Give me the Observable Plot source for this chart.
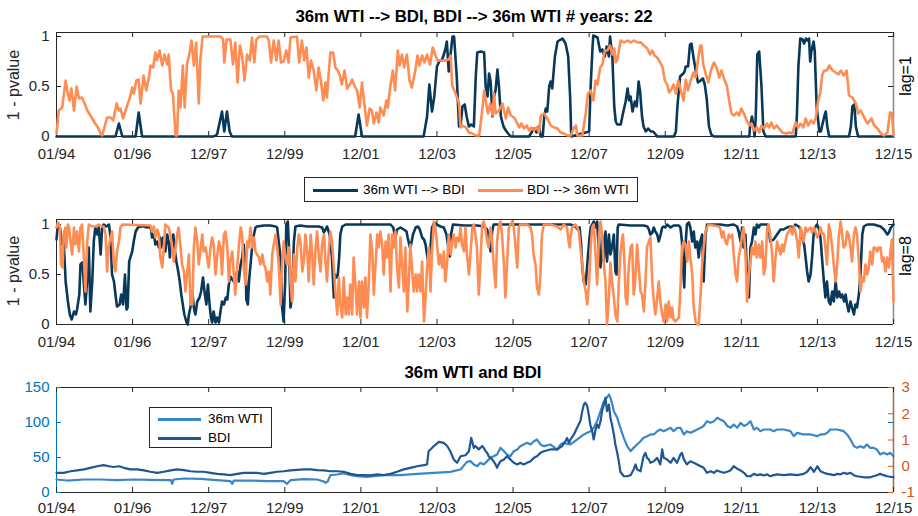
<!DOCTYPE html>
<html><head><meta charset="utf-8">
<script src="https://cdn.jsdelivr.net/npm/d3@7"></script>
<script src="https://cdn.jsdelivr.net/npm/@observablehq/plot@0.6"></script>
<style>
body{margin:0;background:#fff;font-family:"Liberation Sans",Arial,sans-serif;color:#262626;}
#root{position:relative;width:918px;height:516px;overflow:hidden;background:#fff;}
.title{position:absolute;font-weight:bold;font-size:16.8px;line-height:20px;color:#000;white-space:nowrap;transform:translateX(-50%);}
.rot{position:absolute;font-size:16px;line-height:18px;white-space:nowrap;transform:translate(-50%,-50%) rotate(-90deg);color:#262626;}
.legend{position:absolute;background:#fff;border:1px solid #262626;box-sizing:border-box;}
.legend .ln{position:absolute;height:2.5px;}
.legend .tx{position:absolute;font-size:13.5px;line-height:16px;white-space:nowrap;color:#000;}
svg{position:absolute;left:0;}
</style></head>
<body><div id="root"></div>
<script>
// ---- axis tick data ----
const xTickYears = [0,2,4,6,8,10,12,14,16,18,20,22];           // years since Jan 1994
const xTickLabels = ["01/94","01/96","12/97","12/99","12/01","12/03","12/05","12/07","12/09","12/11","12/13","12/15"];
const pTicks = [0,0.5,1];
const pTickLabels = ["0","0.5","1"];
const priceTicks = [0,50,100,150];
const zTicks = [-1,0,1,2,3];

// ---- lag=1 : 1 - pvalue  [years since Jan 1994, value] ----
const lag1WtiToBdi = [[0,0],[1.55,0],[1.64,0.13],[1.73,0],[2.08,0],[2.16,0.24],[2.25,0],[4.13,0],[4.22,0.02],[4.35,0.25],[4.41,0.05],[4.48,0.25],[4.55,0.05],[4.61,0],[7.85,0],[7.94,0.22],[8.03,0],[9.65,0],[9.74,0.2],[9.80,0.52],[9.87,0.25],[9.93,0.4],[10.0,0.7],[10.07,0.76],[10.13,0.76],[10.22,0.87],[10.26,0.95],[10.31,0.65],[10.35,0.8],[10.41,1.0],[10.45,1.0],[10.52,0.6],[10.58,0.1],[10.62,0.1],[10.67,0.3],[10.73,0.32],[10.78,0.2],[10.84,0.1],[10.90,0.12],[10.97,0.1],[11.02,0.6],[11.06,0.84],[11.15,0.85],[11.24,0.84],[11.28,0.5],[11.33,0.4],[11.37,0.63],[11.41,0.55],[11.46,0.2],[11.50,0.4],[11.54,0.46],[11.59,0.67],[11.63,0.5],[11.68,0.2],[11.75,0.1],[11.81,0.06],[11.87,0.03],[11.94,0],[12.42,0],[12.55,0.08],[12.62,0.04],[12.68,0.1],[12.73,0],[12.78,0],[12.82,0.2],[12.86,0.28],[12.90,0.25],[12.95,0.5],[12.99,0.55],[13.03,0.48],[13.10,0.8],[13.17,0.95],[13.30,0.98],[13.38,0.93],[13.45,0.8],[13.50,0.4],[13.53,0],[14.00,0.05],[14.04,0.5],[14.09,0.9],[14.11,1.01],[14.22,0.99],[14.29,0.85],[14.35,0.87],[14.41,0.8],[14.46,0.9],[14.52,0.8],[14.55,1.0],[14.61,0.8],[14.66,0.3],[14.70,0.15],[14.74,0.12],[14.83,0.12],[14.90,0.25],[14.96,0.35],[15.01,0.48],[15.05,0.36],[15.09,0.4],[15.14,0.25],[15.20,0.35],[15.25,0.3],[15.30,0.55],[15.34,0.45],[15.39,0.2],[15.43,0.1],[15.49,0.05],[15.55,0.08],[15.62,0.05],[15.68,0.05],[15.75,0.02],[15.79,0],[16.23,0],[16.28,0.05],[16.32,0.3],[16.39,0.6],[16.50,0.64],[16.54,0.7],[16.60,0.7],[16.65,0.92],[16.69,0.93],[16.74,0.8],[16.80,0.66],[16.86,0.54],[16.93,0.56],[16.99,0.58],[17.04,0.52],[17.09,0.38],[17.15,0.1],[17.21,0.02],[17.28,0],[18.21,0],[18.23,0.1],[18.28,0.2],[18.32,0.1],[18.35,0],[18.38,0.2],[18.42,0.82],[18.47,0.85],[18.53,0.5],[18.58,0.05],[18.64,0],[19.43,0],[19.46,0.2],[19.50,0.7],[19.55,0.98],[19.61,0.97],[19.65,0.93],[19.70,0.98],[19.74,0.96],[19.78,0.98],[19.81,0.75],[19.84,0.85],[19.90,0.95],[19.93,0.85],[19.98,0.3],[20.05,0.05],[20.09,0.05],[20.18,0.2],[20.22,0.25],[20.26,0.1],[20.31,0],[20.83,0],[20.88,0.1],[20.92,0.3],[20.97,0.32],[21.01,0.1],[21.07,0],[22,0]];

const lag1BdiToWti = [[0,0.03],[0.06,0.26],[0.15,0.29],[0.24,0.56],[0.28,0.46],[0.34,0.36],[0.39,0.48],[0.46,0.26],[0.53,0.50],[0.59,0.38],[0.67,0.39],[0.74,0.33],[0.81,0.26],[0.89,0.21],[1.02,0.13],[1.09,0.09],[1.16,0.03],[1.20,0.01],[1.26,0.09],[1.33,0.19],[1.42,0.19],[1.49,0.16],[1.58,0.33],[1.64,0.26],[1.68,0.28],[1.75,0.18],[1.84,0.29],[1.93,0.39],[1.99,0.49],[2.03,0.43],[2.10,0.56],[2.16,0.57],[2.21,0.33],[2.29,0.61],[2.36,0.46],[2.43,0.59],[2.47,0.71],[2.54,0.69],[2.60,0.84],[2.64,0.76],[2.71,0.86],[2.78,0.71],[2.84,0.82],[2.91,0.72],[2.95,0.82],[3.01,0.46],[3.06,0.43],[3.13,0.01],[3.17,0.01],[3.21,0.46],[3.26,0.29],[3.32,0.71],[3.37,0.29],[3.43,0.72],[3.50,0.84],[3.55,0.96],[3.61,0.71],[3.67,0.94],[3.74,0.33],[3.78,0.76],[3.84,1.0],[4.31,1.0],[4.38,0.97],[4.41,0.74],[4.47,0.97],[4.57,0.97],[4.64,0.72],[4.70,0.94],[4.76,0.54],[4.82,0.91],[4.88,0.81],[4.94,0.56],[5.01,0.82],[5.08,0.76],[5.14,0.99],[5.20,0.74],[5.25,0.97],[5.34,1.0],[5.53,1.0],[5.58,0.96],[5.64,0.74],[5.71,0.96],[5.78,0.76],[5.84,0.96],[5.90,0.74],[5.97,0.75],[6.04,0.86],[6.10,0.74],[6.15,0.99],[6.32,1.0],[6.38,0.74],[6.45,0.96],[6.51,0.76],[6.57,0.89],[6.63,0.59],[6.69,0.76],[6.76,0.66],[6.83,0.46],[6.89,0.69],[6.95,0.56],[7.01,0.36],[7.07,0.54],[7.11,0.39],[7.15,0.61],[7.20,0.84],[7.27,0.84],[7.33,0.69],[7.39,0.66],[7.44,0.62],[7.50,0.52],[7.57,0.66],[7.64,0.48],[7.71,0.52],[7.77,0.57],[7.83,0.51],[7.90,0.46],[7.97,0.29],[8.03,0.54],[8.09,0.33],[8.16,0.11],[8.23,0.28],[8.29,0.26],[8.34,0.13],[8.41,0.24],[8.47,0.14],[8.51,0.29],[8.60,0.21],[8.67,0.36],[8.71,0.29],[8.77,0.49],[8.84,0.66],[8.90,0.46],[8.97,0.86],[9.02,0.71],[9.08,0.82],[9.14,0.69],[9.21,0.82],[9.28,0.56],[9.34,0.49],[9.43,0.66],[9.49,0.81],[9.54,0.71],[9.61,0.81],[9.67,0.74],[9.74,0.82],[9.82,0.72],[9.89,0.89],[9.96,0.81],[10.02,0.76],[10.22,0.76],[10.31,0.77],[10.36,0.81],[10.40,0.51],[10.49,0.43],[10.58,0.33],[10.62,0.09],[10.67,0.11],[10.76,0.09],[10.84,0.04],[10.93,0.03],[11.02,0.01],[11.11,0.01],[11.19,0.26],[11.24,0.46],[11.28,0.36],[11.34,0.23],[11.40,0.33],[11.46,0.21],[11.50,0.43],[11.54,0.23],[11.63,0.26],[11.72,0.33],[11.81,0.18],[11.87,0.29],[11.94,0.21],[12.03,0.19],[12.10,0.14],[12.16,0.09],[12.22,0.13],[12.29,0.08],[12.36,0.11],[12.42,0.06],[12.48,0.09],[12.55,0.06],[12.62,0.09],[12.68,0.04],[12.73,0.21],[12.82,0.23],[12.90,0.18],[12.99,0.11],[13.08,0.09],[13.17,0.08],[13.25,0.04],[13.34,0.03],[13.43,0.01],[13.52,0.01],[13.59,0.08],[13.65,0.11],[13.69,0.01],[13.82,0.01],[13.91,0.23],[13.97,0.43],[14.04,0.46],[14.11,0.36],[14.17,0.56],[14.22,0.52],[14.29,0.69],[14.35,0.72],[14.41,0.86],[14.48,0.86],[14.55,0.91],[14.61,0.82],[14.66,0.88],[14.70,0.74],[14.74,0.77],[14.79,0.88],[14.83,0.96],[14.92,0.94],[15.01,0.96],[15.09,0.94],[15.18,0.96],[15.27,0.94],[15.36,0.94],[15.44,0.91],[15.53,0.88],[15.60,0.82],[15.66,0.86],[15.72,0.81],[15.79,0.79],[15.87,0.74],[15.93,0.69],[15.99,0.56],[16.06,0.51],[16.10,0.44],[16.16,0.47],[16.22,0.52],[16.28,0.43],[16.34,0.56],[16.41,0.46],[16.48,0.36],[16.54,0.57],[16.60,0.46],[16.67,0.56],[16.74,0.64],[16.80,0.59],[16.86,0.76],[16.92,0.91],[16.95,0.91],[17.00,0.72],[17.07,0.62],[17.13,0.54],[17.20,0.66],[17.28,0.74],[17.35,0.69],[17.42,0.59],[17.48,0.66],[17.55,0.57],[17.62,0.51],[17.68,0.36],[17.74,0.23],[17.81,0.21],[17.88,0.24],[17.94,0.21],[18.00,0.28],[18.07,0.23],[18.14,0.16],[18.21,0.11],[18.27,0.13],[18.34,0.06],[18.41,0.09],[18.47,0.04],[18.53,0.11],[18.60,0.08],[18.67,0.13],[18.73,0.09],[18.79,0.14],[18.86,0.08],[18.93,0.11],[18.99,0.08],[19.08,0.04],[19.17,0.03],[19.26,0.04],[19.34,0.03],[19.43,0.14],[19.49,0.09],[19.56,0.13],[19.63,0.09],[19.69,0.18],[19.76,0.11],[19.83,0.16],[19.90,0.13],[19.96,0.19],[20.02,0.36],[20.07,0.43],[20.13,0.62],[20.18,0.66],[20.25,0.66],[20.31,0.71],[20.40,0.66],[20.48,0.64],[20.55,0.62],[20.62,0.66],[20.69,0.61],[20.77,0.66],[20.83,0.41],[20.92,0.39],[21.01,0.33],[21.07,0.23],[21.14,0.26],[21.23,0.19],[21.32,0.13],[21.42,0.18],[21.49,0.11],[21.58,0.08],[21.67,0.03],[21.75,0.01],[21.84,0.04],[21.91,0.24],[21.96,0.23],[22.00,0.01]];

// ---- lag=8 : 1 - pvalue ----
const lag8WtiToBdi = [[0,0.85],[0.035,1.0],[0.09,0.97],[0.15,0.8],[0.19,0.83],[0.24,0.43],[0.30,0.23],[0.35,0.1],[0.40,0.05],[0.46,0.13],[0.51,0.1],[0.54,0.15],[0.60,0.3],[0.63,0.6],[0.68,0.62],[0.72,0.4],[0.76,0.2],[0.81,0.47],[0.85,0.77],[0.89,0.13],[0.94,0.43],[0.98,0.83],[1.02,0.97],[1.07,0.9],[1.11,0.97],[1.16,0.7],[1.20,0.97],[1.24,1.0],[1.31,0.98],[1.38,1.0],[1.42,0.87],[1.46,0.5],[1.51,0.43],[1.55,0.3],[1.59,0.18],[1.66,0.2],[1.70,0.3],[1.75,0.2],[1.80,0.5],[1.84,0.15],[1.87,0.17],[1.91,0.63],[1.94,0.67],[1.99,0.73],[2.03,0.83],[2.08,0.93],[2.14,0.97],[2.21,0.98],[2.30,0.98],[2.38,0.97],[2.44,0.98],[2.49,0.95],[2.51,0.87],[2.56,0.9],[2.60,0.8],[2.65,0.83],[2.69,0.77],[2.72,0.87],[2.75,0.77],[2.80,0.87],[2.86,0.73],[2.91,0.9],[2.95,0.82],[2.98,0.67],[3.01,0.83],[3.07,0.9],[3.10,0.77],[3.15,0.63],[3.20,0.53],[3.24,0.43],[3.28,0.3],[3.32,0.2],[3.36,0.1],[3.42,0.02],[3.45,0],[3.48,0.1],[3.52,0.17],[3.57,0.33],[3.61,0.17],[3.65,0.1],[3.70,0.23],[3.76,0.27],[3.80,0.33],[3.85,0.47],[3.90,0.3],[3.94,0.2],[3.98,0.4],[4.03,0.17],[4.06,0.07],[4.09,0.02],[4.13,0.13],[4.18,0.02],[4.22,0.07],[4.27,0.02],[4.31,0.13],[4.35,0.23],[4.40,0.2],[4.45,0.27],[4.49,0.25],[4.53,0.4],[4.57,0.48],[4.62,0.45],[4.66,0.43],[4.70,0.45],[4.75,0.53],[4.79,0.43],[4.84,0.6],[4.88,0.67],[4.92,0.8],[4.97,0.6],[4.99,0.25],[5.03,0.2],[5.06,0.43],[5.10,0.6],[5.14,0.77],[5.19,0.9],[5.23,0.97],[5.27,0.98],[5.45,0.99],[5.62,0.99],[5.76,0.98],[5.80,0.97],[5.84,0.83],[5.89,0.67],[5.93,0.17],[5.97,0.03],[6.01,0.43],[6.04,1.0],[6.08,1.03],[6.11,0.77],[6.15,0.17],[6.19,0.27],[6.24,0.83],[6.28,0.98],[6.41,0.99],[6.59,0.98],[6.76,0.98],[6.89,0.98],[6.98,0.97],[7.03,0.92],[7.07,0.95],[7.11,0.98],[7.18,0.9],[7.24,0.67],[7.29,0.27],[7.32,0.5],[7.36,0.47],[7.39,0.48],[7.43,0.67],[7.46,0.9],[7.51,0.98],[7.60,1.0],[8.78,1.0],[8.85,0.97],[8.91,0.87],[8.95,0.95],[9.04,0.97],[9.13,0.95],[9.20,0.93],[9.23,0.87],[9.29,0.77],[9.32,0.8],[9.37,0.9],[9.44,0.97],[9.50,0.98],[9.55,0.95],[9.61,0.87],[9.66,0.85],[9.70,0.8],[9.74,0.7],[9.79,0.58],[9.83,0.77],[9.87,0.97],[9.93,1.02],[9.99,1.0],[10.09,0.98],[10.18,0.97],[10.25,0.9],[10.29,0.8],[10.34,0.68],[10.37,0.9],[10.42,1.0],[10.71,0.99],[11.06,0.99],[11.23,0.98],[11.32,0.95],[11.36,0.87],[11.41,0.73],[11.45,0.93],[11.49,1.0],[13.51,1.0],[13.64,0.98],[13.70,0.95],[13.75,0.97],[13.79,0.8],[13.82,0.57],[13.86,0.43],[13.91,0.4],[13.95,0.6],[14.00,0.83],[14.04,0.97],[14.08,1.0],[14.12,1.03],[14.17,0.97],[14.21,1.03],[14.25,0.77],[14.30,0.57],[14.34,0.9],[14.38,0.63],[14.43,0.93],[14.47,0.63],[14.52,0.9],[14.56,0.7],[14.60,0.77],[14.65,0.9],[14.69,0.53],[14.72,0.5],[14.75,0.97],[14.78,1.0],[15.09,0.99],[15.44,0.99],[15.53,0.98],[15.57,0.95],[15.61,0.9],[15.66,0.92],[15.70,0.97],[15.74,0.93],[15.79,0.9],[15.83,0.83],[15.88,0.9],[15.92,0.97],[15.96,0.98],[16.00,0.97],[16.05,1.0],[16.14,0.97],[16.22,0.99],[16.36,0.99],[16.40,0.97],[16.44,0.83],[16.46,0.63],[16.50,0.37],[16.53,0.77],[16.57,1.0],[16.62,1.02],[16.66,0.97],[16.71,0.83],[16.75,0.93],[16.79,0.77],[16.84,0.83],[16.88,0.67],[16.92,0.83],[16.97,0.9],[17.01,0.43],[17.06,0.9],[17.10,1.0],[17.45,1.0],[17.63,0.99],[17.80,1.0],[17.89,0.98],[17.93,0.93],[17.98,0.83],[18.02,0.97],[18.06,0.77],[18.11,0.9],[18.15,0.43],[18.20,0.27],[18.24,0.77],[18.28,0.83],[18.33,0.97],[18.37,0.9],[18.41,1.0],[18.46,0.97],[18.50,1.0],[18.68,1.0],[18.72,0.97],[18.76,0.83],[18.85,0.85],[18.94,0.9],[19.03,0.95],[19.11,0.95],[19.20,0.97],[19.29,0.98],[19.36,0.97],[19.42,1.0],[19.51,0.98],[19.56,0.95],[19.60,0.87],[19.65,0.8],[19.69,0.67],[19.73,0.53],[19.77,0.43],[19.82,0.5],[19.86,0.67],[19.90,0.9],[19.94,0.97],[19.99,1.0],[20.03,0.97],[20.08,0.87],[20.12,0.67],[20.17,0.43],[20.21,0.27],[20.25,0.43],[20.30,0.23],[20.34,0.2],[20.39,0.33],[20.43,0.23],[20.48,0.43],[20.52,0.27],[20.57,0.33],[20.61,0.27],[20.65,0.3],[20.70,0.23],[20.74,0.3],[20.78,0.2],[20.82,0.13],[20.87,0.23],[20.91,0.17],[20.96,0.1],[21.00,0.2],[21.04,0.17],[21.09,0.3],[21.13,0.5],[21.18,0.9],[21.22,0.98],[21.31,1.0],[21.48,1.0],[21.66,0.98],[21.75,0.95],[21.84,0.9],[21.88,0.92],[21.93,0.97],[22.0,1.0]];

const lag8BdiToWti = [[0,0.97],[0.04,1.02],[0.09,0.97],[0.12,0.6],[0.16,0.57],[0.19,0.9],[0.23,0.97],[0.26,0.77],[0.30,1.0],[0.33,0.97],[0.37,0.83],[0.41,0.7],[0.46,0.97],[0.50,0.8],[0.54,0.93],[0.59,0.73],[0.63,0.97],[0.67,1.0],[0.72,0.67],[0.76,0.33],[0.81,0.83],[0.85,1.0],[0.94,0.98],[1.02,0.98],[1.11,1.0],[1.20,0.98],[1.24,0.98],[1.29,0.9],[1.33,0.53],[1.37,0.77],[1.42,0.87],[1.46,0.93],[1.51,0.6],[1.55,0.53],[1.59,0.73],[1.64,0.83],[1.68,0.97],[1.73,1.0],[2.47,0.99],[2.51,0.93],[2.56,0.98],[2.60,0.87],[2.65,0.95],[2.69,0.9],[2.73,0.67],[2.78,0.57],[2.82,0.77],[2.86,1.0],[2.91,0.98],[2.95,0.97],[2.99,0.9],[3.04,0.77],[3.08,0.63],[3.13,0.77],[3.17,0.9],[3.21,0.97],[3.26,0.77],[3.30,0.6],[3.35,0.53],[3.39,0.33],[3.43,0.5],[3.48,0.7],[3.52,0.2],[3.57,0.2],[3.61,0.77],[3.65,0.97],[3.70,0.83],[3.74,0.6],[3.79,0.77],[3.83,0.9],[3.87,0.73],[3.92,0.77],[3.96,0.67],[4.00,0.57],[4.05,0.77],[4.09,0.87],[4.13,0.8],[4.18,0.5],[4.22,0.67],[4.27,0.83],[4.31,0.77],[4.35,0.5],[4.40,0.9],[4.44,0.93],[4.49,0.77],[4.53,0.43],[4.57,0.63],[4.62,0.73],[4.66,0.5],[4.70,0.3],[4.75,0.57],[4.79,0.77],[4.84,0.97],[4.88,0.9],[4.92,0.57],[4.97,0.4],[5.01,0.83],[5.05,0.77],[5.10,0.97],[5.14,0.77],[5.19,0.87],[5.23,0.73],[5.27,0.7],[5.32,0.67],[5.36,0.6],[5.41,0.7],[5.45,0.6],[5.49,0.57],[5.54,0.43],[5.58,0.53],[5.62,0.3],[5.67,0.7],[5.71,0.8],[5.76,0.9],[5.80,0.77],[5.84,0.6],[5.89,0.2],[5.93,0.6],[5.97,0.83],[6.02,0.67],[6.06,0.6],[6.11,0.77],[6.15,0.43],[6.19,0.23],[6.24,0.7],[6.28,0.43],[6.33,0.77],[6.37,0.9],[6.41,0.83],[6.46,0.53],[6.50,0.63],[6.54,0.9],[6.59,0.73],[6.63,0.43],[6.68,0.9],[6.72,0.7],[6.76,0.4],[6.81,0.77],[6.85,0.93],[6.89,0.7],[6.94,0.53],[6.98,0.8],[7.03,0.9],[7.07,0.63],[7.11,0.43],[7.16,0.77],[7.20,0.93],[7.24,0.83],[7.29,0.57],[7.33,0.33],[7.38,0.1],[7.42,0.47],[7.46,0.2],[7.51,0.07],[7.55,0.47],[7.60,0.1],[7.64,0.27],[7.68,0.1],[7.72,0.4],[7.77,0.1],[7.81,0.67],[7.86,0.37],[7.90,0.1],[7.95,0.43],[7.99,0.07],[8.03,0.43],[8.08,0.17],[8.12,0.47],[8.16,0.07],[8.21,0.43],[8.25,0.9],[8.30,0.73],[8.34,0.3],[8.39,0.63],[8.43,0.9],[8.47,0.77],[8.51,0.93],[8.56,0.8],[8.60,0.5],[8.65,0.83],[8.69,0.67],[8.73,0.9],[8.78,0.33],[8.82,0.9],[8.86,0.77],[8.91,0.93],[8.95,0.57],[9.00,0.37],[9.04,0.87],[9.09,0.57],[9.13,0.33],[9.17,0.77],[9.22,0.13],[9.26,0.43],[9.30,0.8],[9.35,0.53],[9.39,0.33],[9.44,0.5],[9.48,0.33],[9.52,0.5],[9.57,0.33],[9.61,0.63],[9.66,0.03],[9.70,0.27],[9.74,0.57],[9.79,0.77],[9.83,0.33],[9.87,0.73],[9.92,1.03],[9.96,0.97],[10.01,0.77],[10.05,0.6],[10.09,0.7],[10.14,0.57],[10.18,0.73],[10.22,0.43],[10.27,0.63],[10.31,0.9],[10.36,0.7],[10.40,0.83],[10.44,0.9],[10.49,0.77],[10.53,0.87],[10.58,0.83],[10.62,0.97],[10.66,0.8],[10.71,0.73],[10.75,0.97],[10.79,0.7],[10.84,0.5],[10.88,0.7],[10.93,0.97],[10.97,1.0],[11.01,0.9],[11.05,0.77],[11.10,0.3],[11.14,0.6],[11.19,1.0],[11.23,1.03],[11.27,0.97],[11.32,0.83],[11.36,0.77],[11.41,0.97],[11.45,0.83],[11.49,0.6],[11.54,0.37],[11.58,0.83],[11.62,0.97],[11.67,1.03],[11.71,0.9],[11.76,0.6],[11.80,0.27],[11.84,0.6],[11.89,0.97],[11.93,1.0],[11.98,1.03],[12.02,0.97],[12.06,0.8],[12.11,0.57],[12.15,0.97],[12.19,1.0],[12.37,1.0],[12.46,0.97],[12.50,0.9],[12.54,0.7],[12.59,0.6],[12.63,0.37],[12.68,0.3],[12.72,0.5],[12.76,0.9],[12.81,1.0],[12.98,1.0],[13.16,0.98],[13.25,0.95],[13.33,1.0],[13.42,0.97],[13.46,0.83],[13.49,0.77],[13.51,0.87],[13.55,0.97],[13.64,1.0],[13.69,0.97],[13.73,0.93],[13.77,0.77],[13.82,0.6],[13.86,0.43],[13.91,0.33],[13.95,0.2],[14.00,0.43],[14.04,0.77],[14.08,0.97],[14.12,1.0],[14.17,0.7],[14.21,0.4],[14.26,0.9],[14.30,1.03],[14.34,0.9],[14.38,0.63],[14.43,0.43],[14.47,0],[14.52,0.27],[14.56,0.62],[14.60,0.43],[14.65,0.27],[14.69,0.1],[14.74,0.03],[14.78,0.43],[14.82,0.7],[14.87,0.87],[14.89,0.9],[14.93,0.6],[14.96,0.27],[15.00,0.2],[15.04,0.57],[15.09,0.77],[15.13,0.8],[15.17,0.3],[15.21,0.43],[15.26,0.8],[15.30,0.6],[15.35,0.33],[15.39,0.3],[15.44,0.13],[15.48,0.43],[15.52,0.77],[15.57,0.83],[15.61,0.87],[15.66,0.43],[15.70,0.23],[15.74,0.1],[15.79,0.27],[15.83,0.43],[15.87,0.23],[15.92,0.1],[15.96,0.03],[16.01,0.2],[16.05,0.03],[16.09,0.23],[16.14,0.07],[16.18,0.17],[16.22,0.05],[16.27,0.03],[16.31,0.05],[16.36,0.07],[16.40,0.37],[16.44,0.77],[16.49,0.83],[16.53,0.8],[16.58,0.63],[16.62,0.83],[16.66,0.67],[16.71,0.5],[16.75,0.17],[16.80,0.03],[16.84,0],[16.88,0],[16.93,0.3],[16.97,0.6],[17.01,0.77],[17.06,0.93],[17.10,0.97],[17.14,1.0],[17.40,0.98],[17.44,0.97],[17.49,0.87],[17.53,0.93],[17.58,0.83],[17.62,0.8],[17.67,0.9],[17.71,0.87],[17.76,0.9],[17.80,0.7],[17.85,0.5],[17.89,0.43],[17.93,0.67],[17.98,0.77],[18.02,0.9],[18.06,0.97],[18.11,0.7],[18.15,0.23],[18.20,0.5],[18.24,0.63],[18.28,0.77],[18.33,0.7],[18.37,0.83],[18.41,0.67],[18.46,0.8],[18.50,0.67],[18.55,0.83],[18.59,0.5],[18.63,0.57],[18.68,0.97],[18.72,1.0],[18.76,0.9],[18.81,0.7],[18.85,0.43],[18.90,0.67],[18.94,0.83],[18.98,0.77],[19.03,0.7],[19.07,0.8],[19.11,0.73],[19.16,0.83],[19.20,0.9],[19.25,0.93],[19.29,0.97],[19.34,0.9],[19.38,0.98],[19.42,0.93],[19.47,0.83],[19.51,0.67],[19.56,0.97],[19.60,0.9],[19.64,0.83],[19.69,0.97],[19.73,0.93],[19.77,0.95],[19.82,0.97],[19.86,0.92],[19.91,0.97],[19.95,0.93],[19.99,0.87],[20.04,0.9],[20.08,0.97],[20.12,0.92],[20.17,0.9],[20.21,0.77],[20.25,0.6],[20.30,1.0],[20.34,0.93],[20.39,0.77],[20.43,0.6],[20.48,0.43],[20.52,0.6],[20.56,0.87],[20.61,1.03],[20.65,0.9],[20.69,0.77],[20.74,0.8],[20.78,0.93],[20.82,0.9],[20.87,0.77],[20.91,0.63],[20.96,0.9],[21.00,0.97],[21.04,0.9],[21.09,0.63],[21.13,0.33],[21.18,0.47],[21.22,0.43],[21.26,0.6],[21.31,0.5],[21.35,0.57],[21.39,0.73],[21.44,0.6],[21.48,0.77],[21.52,0.77],[21.57,0.73],[21.61,0.77],[21.66,0.77],[21.70,0.63],[21.74,0.67],[21.79,0.53],[21.83,0.67],[21.88,0.57],[21.92,0.73],[21.96,0.85],[22.00,0.23]];

// ---- 36m WTI (left axis, price) and BDI (right axis, standardized) ----
const wti36m = [[0,18.6],[0.28,17.1],[0.72,18.6],[1.16,18.6],[1.59,17.6],[2.03,18.6],[2.47,18.1],[2.91,17.6],[3.01,17.6],[3.04,12.4],[3.08,18.6],[3.35,20],[3.78,19.5],[4.22,17.6],[4.57,16.2],[4.62,12.4],[4.66,17.1],[5.10,17.1],[5.54,16.2],[5.97,16.2],[6.06,12.4],[6.15,17.6],[6.50,19],[6.85,18.6],[7.03,15.5],[7.07,13.8],[7.13,16],[7.20,24.8],[7.38,25.7],[7.55,27.6],[7.73,24.8],[7.90,23.3],[8.16,22.4],[8.60,24.8],[9.04,24.8],[9.48,26.7],[9.92,28.1],[10.35,29.5],[10.62,32.9],[10.79,43.8],[10.88,44.8],[10.97,40],[11.06,37.6],[11.14,42.4],[11.23,40],[11.32,44.8],[11.40,49.5],[11.49,51.9],[11.58,54.3],[11.67,63.8],[11.76,59],[11.84,54.3],[11.93,51.9],[12.02,59],[12.11,61.4],[12.19,66.2],[12.28,68.6],[12.37,71],[12.46,68.6],[12.55,73.3],[12.63,75.7],[12.72,68.6],[12.81,66.2],[12.98,68.6],[13.16,61.4],[13.25,68.6],[13.33,71],[13.42,69.5],[13.51,68.6],[13.68,75.7],[13.86,82.9],[13.95,85.2],[14.04,87.6],[14.12,92.4],[14.21,101.9],[14.30,116.2],[14.39,130.5],[14.46,135.2],[14.52,140],[14.56,135.2],[14.61,125.7],[14.65,116.2],[14.74,106.7],[14.82,92.4],[14.91,78.1],[15.00,66.2],[15.09,59],[15.17,63.8],[15.26,68.6],[15.35,73.3],[15.43,78.1],[15.53,80.5],[15.61,82.9],[15.70,82.9],[15.79,87.6],[15.87,90],[15.96,87.6],[16.05,90],[16.14,92.4],[16.22,87.6],[16.32,92.4],[16.40,92.4],[16.49,82.9],[16.57,87.6],[16.66,85.2],[16.75,87.6],[16.84,90],[16.93,92.4],[17.01,95],[17.10,101.9],[17.19,99.5],[17.28,101.9],[17.37,106.7],[17.45,104.3],[17.54,101.9],[17.63,95],[17.72,92.4],[17.80,97.1],[17.89,92.4],[17.98,99.5],[18.07,95],[18.15,97.1],[18.24,101.9],[18.33,90],[18.41,92.4],[18.50,87.6],[18.59,90],[18.76,90],[18.85,87.6],[18.94,90],[19.12,90],[19.29,87.6],[19.38,80.5],[19.47,85.2],[19.64,82.9],[19.82,82.9],[20.00,80.5],[20.08,82.9],[20.17,82.9],[20.26,85.2],[20.34,90],[20.43,90],[20.52,90],[20.69,87.6],[20.78,82.9],[20.87,75.7],[20.96,66.2],[21.04,63.8],[21.13,66.2],[21.22,63.8],[21.30,68.6],[21.39,63.8],[21.48,63.8],[21.56,61.4],[21.65,54.3],[21.74,56.7],[21.83,54.3],[21.91,56.7],[22.0,52]];

const bdiStd = [[0,-0.25],[0.19,-0.25],[0.37,-0.19],[0.54,-0.16],[0.72,-0.12],[0.89,-0.06],[1.07,0.0],[1.24,0.04],[1.38,0.0],[1.51,-0.03],[1.64,0.0],[1.77,-0.06],[1.94,-0.12],[2.12,-0.12],[2.30,-0.16],[2.47,-0.21],[2.65,-0.25],[2.82,-0.21],[3.00,-0.16],[3.17,-0.12],[3.35,-0.15],[3.52,-0.19],[3.70,-0.21],[3.87,-0.21],[4.05,-0.25],[4.22,-0.29],[4.40,-0.31],[4.57,-0.34],[4.75,-0.29],[4.92,-0.25],[5.10,-0.25],[5.27,-0.25],[5.45,-0.29],[5.62,-0.25],[5.80,-0.21],[5.97,-0.19],[6.15,-0.16],[6.33,-0.14],[6.50,-0.12],[6.68,-0.12],[6.85,-0.15],[7.03,-0.16],[7.20,-0.19],[7.38,-0.19],[7.55,-0.21],[7.73,-0.29],[7.90,-0.34],[8.08,-0.34],[8.25,-0.35],[8.43,-0.31],[8.60,-0.34],[8.78,-0.29],[8.95,-0.21],[9.13,-0.12],[9.30,-0.06],[9.48,0.0],[9.65,0.04],[9.74,0.07],[9.78,0.57],[9.83,0.64],[9.92,0.77],[10.05,0.93],[10.18,0.89],[10.27,0.77],[10.35,0.57],[10.44,0.26],[10.53,0.13],[10.62,0.38],[10.75,0.42],[10.84,0.57],[10.90,1.08],[10.97,0.70],[11.01,0.77],[11.06,0.70],[11.10,0.64],[11.14,0.70],[11.19,0.77],[11.23,0.70],[11.28,0.57],[11.32,0.51],[11.36,0.38],[11.40,0.32],[11.45,0.26],[11.49,0.19],[11.54,0.07],[11.58,-0.06],[11.62,0.07],[11.67,0.19],[11.76,0.26],[11.84,0.38],[11.93,0.26],[12.02,0.13],[12.11,0.07],[12.19,0.13],[12.28,0.07],[12.37,0.13],[12.46,0.19],[12.55,0.32],[12.63,0.38],[12.72,0.51],[12.81,0.57],[12.98,0.64],[13.16,0.64],[13.29,0.77],[13.38,0.96],[13.42,1.08],[13.47,0.89],[13.51,1.02],[13.60,1.21],[13.68,1.46],[13.77,1.72],[13.82,2.10],[13.86,2.35],[13.90,2.42],[13.95,2.29],[13.99,1.97],[14.03,1.59],[14.08,1.34],[14.12,1.02],[14.17,1.40],[14.21,1.59],[14.25,1.46],[14.30,1.72],[14.34,2.10],[14.39,2.35],[14.43,2.61],[14.47,2.10],[14.52,2.35],[14.56,1.84],[14.60,1.59],[14.65,1.21],[14.69,0.83],[14.73,0.57],[14.78,0.19],[14.82,-0.21],[14.91,-0.38],[15.00,-0.38],[15.09,-0.34],[15.17,-0.12],[15.22,0.07],[15.26,-0.12],[15.35,-0.19],[15.43,0.38],[15.48,0.51],[15.52,0.32],[15.57,0.26],[15.61,0.13],[15.70,0.19],[15.79,0.32],[15.87,0.07],[15.92,0.64],[15.96,0.32],[16.05,0.26],[16.14,0.13],[16.22,0.32],[16.31,0.13],[16.40,0.45],[16.44,0.51],[16.49,0.26],[16.57,0.07],[16.66,0.19],[16.75,0.13],[16.84,0.07],[16.93,0.00],[17.01,-0.06],[17.10,-0.25],[17.19,-0.19],[17.28,-0.25],[17.36,-0.16],[17.45,-0.21],[17.54,-0.25],[17.63,-0.21],[17.71,-0.16],[17.80,0.00],[17.89,-0.09],[17.98,-0.16],[18.07,-0.25],[18.15,-0.38],[18.24,-0.38],[18.33,-0.29],[18.41,-0.34],[18.50,-0.31],[18.59,-0.35],[18.68,-0.31],[18.76,-0.38],[18.85,-0.34],[18.94,-0.31],[19.12,-0.34],[19.29,-0.31],[19.47,-0.34],[19.64,-0.29],[19.73,-0.21],[19.82,-0.03],[19.91,-0.21],[20.00,0.00],[20.08,-0.19],[20.17,-0.25],[20.26,-0.29],[20.34,-0.31],[20.43,-0.34],[20.52,-0.29],[20.61,-0.31],[20.69,-0.25],[20.78,-0.29],[20.87,-0.25],[20.96,-0.34],[21.04,-0.38],[21.22,-0.42],[21.39,-0.42],[21.56,-0.34],[21.65,-0.29],[21.74,-0.34],[21.83,-0.38],[22.00,-0.42]];

// ---- styling ----
const ink = "#262626", navy = "#08385a", orange = "#fe8c53";
const wtiBlue = "#3a87c8", bdiBlue = "#1f5795", axBlue = "#0072bd", axOrange = "#d95319";
const W = 918, ML = 56, MR = 25;
const font = {fontFamily:"'Liberation Sans', Arial, sans-serif", fontSize:"15px", color: ink, background:"transparent", overflow:"visible"};
const root = document.getElementById("root");
const X = d => d[0], Y = d => d[1];
const fmtX = d => xTickLabels[Math.round(d / 2)];

function pPanel(navyData, orangeData, top, height, mt, mb, ymax) {
  const ih = height - mt - mb, iw = W - ML - MR;
  const svg = Plot.plot({
    width: W, height, marginLeft: ML, marginRight: MR, marginTop: mt, marginBottom: mb,
    style: font,
    x: {domain: [0, 22]}, y: {domain: [0, ymax]},
    marks: [
      Plot.ruleY([ymax], {stroke: ink}),
      Plot.ruleY([0], {stroke: ink}),
      Plot.ruleX([0], {stroke: ink}),
      Plot.ruleX([22], {stroke: "#8e8e8e", strokeWidth: 1.6}),
      Plot.tickX(xTickYears, {x: d => d, stroke: ink, insetTop: ih - 5}),
      Plot.tickX(xTickYears, {x: d => d, stroke: ink, insetBottom: ih - 5}),
      Plot.tickY(pTicks, {y: d => d, stroke: ink, insetRight: iw - 5}),
      Plot.tickY(pTicks, {y: d => d, stroke: ink, insetLeft: iw - 5}),
      Plot.line(navyData, {x: X, y: Y, stroke: navy, strokeWidth: 2.6}),
      Plot.line(orangeData, {x: X, y: Y, stroke: orange, strokeWidth: 2.6}),
      Plot.axisX({ticks: xTickYears, tickFormat: fmtX, tickSize: 0, tickPadding: 12, label: null, fill: ink}),
      Plot.axisY({ticks: pTicks, tickFormat: d => pTickLabels[pTicks.indexOf(d)], tickSize: 0, tickPadding: 7, label: null, fill: ink})
    ]
  });
  svg.style.top = top + "px";
  root.appendChild(svg);
}

pPanel(lag1WtiToBdi, lag1BdiToWti, 0, 170, 32, 34, 1.04);
pPanel(lag8WtiToBdi, lag8BdiToWti, 200, 160, 19, 36, 1.05);

// price panel
(function(){
  const top = 360, height = 156, mt = 27, mb = 24;
  const ih = height - mt - mb, iw = W - ML - MR;
  const zToY = z => (z + 1) * 37.5;
  const svg = Plot.plot({
    width: W, height, marginLeft: ML, marginRight: MR, marginTop: mt, marginBottom: mb,
    style: font,
    x: {domain: [0, 22]}, y: {domain: [0, 150]},
    marks: [
      Plot.ruleY([150], {stroke: ink}),
      Plot.ruleY([0], {stroke: ink}),
      Plot.ruleX([0], {stroke: axBlue}),
      Plot.ruleX([22], {stroke: "#a2705a", strokeWidth: 1.6}),
      Plot.tickX(xTickYears, {x: d => d, stroke: ink, insetTop: ih - 5}),
      Plot.tickX(xTickYears, {x: d => d, stroke: ink, insetBottom: ih - 5}),
      Plot.tickY(priceTicks, {y: d => d, stroke: axBlue, insetRight: iw - 5}),
      Plot.tickY(zTicks, {y: zToY, stroke: axOrange, insetLeft: iw - 5}),
      Plot.tickY([100], {y: d => d, stroke: axBlue, insetLeft: iw - 5}),
      Plot.line(wti36m, {x: X, y: Y, stroke: wtiBlue, strokeWidth: 2.2}),
      Plot.line(bdiStd, {x: X, y: d => zToY(d[1]), stroke: bdiBlue, strokeWidth: 2.2}),
      Plot.axisX({ticks: xTickYears, tickFormat: fmtX, tickSize: 0, tickPadding: 9.5, label: null, fill: ink}),
      Plot.axisY({ticks: priceTicks, tickFormat: d => String(d), tickSize: 0, tickPadding: 7, label: null, fill: axBlue}),
      Plot.axisY({anchor: "right", ticks: zTicks.map(zToY), tickFormat: v => String(Math.round(v / 37.5 - 1)), tickSize: 0, tickPadding: 8, label: null, fill: axOrange})
    ]
  });
  svg.style.top = top + "px";
  root.appendChild(svg);
})();

// ---- text overlays ----
function add(html){ const t = document.createElement("template"); t.innerHTML = html.trim(); root.appendChild(t.content.firstChild); }
add(`<div class="title" style="left:474px;top:7px;">36m WTI --&gt; BDI, BDI --&gt; 36m WTI # years: 22</div>`);
add(`<div class="title" style="left:473px;top:363px;">36m WTI and BDI</div>`);
add(`<div class="rot" style="left:14px;top:85px;">1 - pvalue</div>`);
add(`<div class="rot" style="left:14px;top:271px;">1 - pvalue</div>`);
add(`<div class="rot" style="left:906px;top:76px;color:#000;">lag=1</div>`);
add(`<div class="rot" style="left:906px;top:256px;color:#000;">lag=8</div>`);
add(`<div class="legend" style="left:304px;top:177px;width:334px;height:25px;">
  <div class="ln" style="left:8px;width:45px;top:11px;background:${navy}"></div>
  <div class="tx" style="left:58px;top:4px;">36m WTI --&gt; BDI</div>
  <div class="ln" style="left:173px;width:45px;top:11px;background:${orange}"></div>
  <div class="tx" style="left:222px;top:4px;">BDI --&gt; 36m WTI</div>
</div>`);
add(`<div class="legend" style="left:149px;top:407px;width:123px;height:41px;">
  <div class="ln" style="left:8px;width:43px;top:10px;background:${wtiBlue}"></div>
  <div class="tx" style="left:58px;top:3px;">36m WTI</div>
  <div class="ln" style="left:8px;width:43px;top:29px;background:${bdiBlue}"></div>
  <div class="tx" style="left:58px;top:22px;">BDI</div>
</div>`);
</script>
</body></html>
